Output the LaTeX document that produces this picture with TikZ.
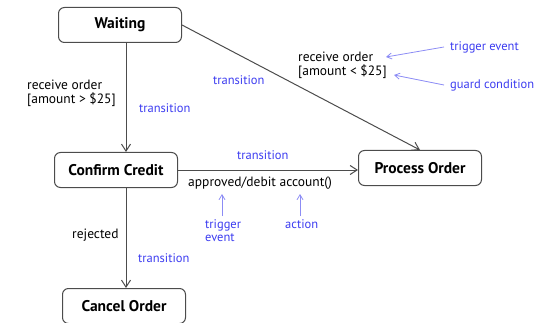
\documentclass[tikz,border=0pt]{standalone}
\usepackage{fontspec}
\setmainfont{PT Sans}
\usetikzlibrary{arrows.meta,positioning}
\definecolor{notecol}{HTML}{3C3CF0}
\definecolor{hintcol}{HTML}{8C8CF5}

\begin{document}
\begin{tikzpicture}[x=1pt,y=-1pt]
  \tikzset{
    state/.style={draw=black!70, line width=1pt, rounded corners=6pt,
          minimum width=123pt, minimum height=35pt, font=\fontsize{15.5}{17}\selectfont\bfseries},
    trans/.style={-{Straight Barb[length=7pt,width=9pt]}, draw=black!70, line width=1pt},
    event/.style={font=\fontsize{13.5}{14}\selectfont, align=left, inner sep=0pt},
    note/.style={text=notecol, font=\fontsize{12.5}{13}\selectfont, align=left, inner sep=0pt},
    hint/.style={-{Straight Barb[length=5pt,width=6pt]}, draw=hintcol, line width=0.8pt}
  }
  \useasboundingbox (0,0) rectangle (556,323);

  % states
  \node[state] (wait) at (120,25) {Waiting};
  \node[state] (conf) at (116,170) {Confirm Credit};
  \node[state] (proc) at (420,168) {Process Order};
  \node[state] (canc) at (124,306) {Cancel Order};

  % transitions
  \coordinate (vx) at (126,0);
  \draw[trans] (wait.south -| vx) -- (conf.north -| vx);
  \draw[trans] (conf.south -| vx) -- (canc.north -| vx);
  \draw[trans] (wait.east) -- (proc.north);
  \draw[trans] (conf.east) -- (conf.east -| proc.west);

  % transition labels
  \node[event, anchor=west] (bigorder) at (27,93) {receive order\\{[}amount > \$25{]}};
  \node[event, anchor=west] (smallorder) at (298,65) {receive order\\{[}amount < \$25{]}};
  \node[event, anchor=west] (approved) at (188,183) {approved/debit account()};
  \node[event, anchor=west] (rejected) at (72,235) {rejected};

  \node[note, anchor=west] (t1) at (139,108) {transition};
  \node[note, anchor=west] (t2) at (213,80) {transition};
  \node[note, anchor=west] (t3) at (237,155) {transition};
  \node[note, anchor=west] (t4) at (138,258) {transition};

  % annotations
  \node[note, anchor=west] (trig1) at (450,47) {trigger event};
  \node[note, anchor=west] (guard) at (450,85) {guard condition};
  \node[note, anchor=north west] (trig2) at (205,219) {trigger\\event};
  \node[note, anchor=north west] (act) at (285,219) {action};

  \coordinate (trig1end) at (386,57);
  \coordinate (guardend) at (394,75);
  \coordinate (trig2end) at (222,194);
  \coordinate (actend) at (300,194);
  \draw[hint] ([xshift=-6pt]trig1.west) -- (trig1end);
  \draw[hint] ([xshift=-6pt]guard.west) -- (guardend);
  \draw[hint] (trig2.north -| trig2end) ++(0,-3) -- (trig2end);
  \draw[hint] (act.north -| actend) ++(0,-3) -- (actend);
\end{tikzpicture}
\end{document}
